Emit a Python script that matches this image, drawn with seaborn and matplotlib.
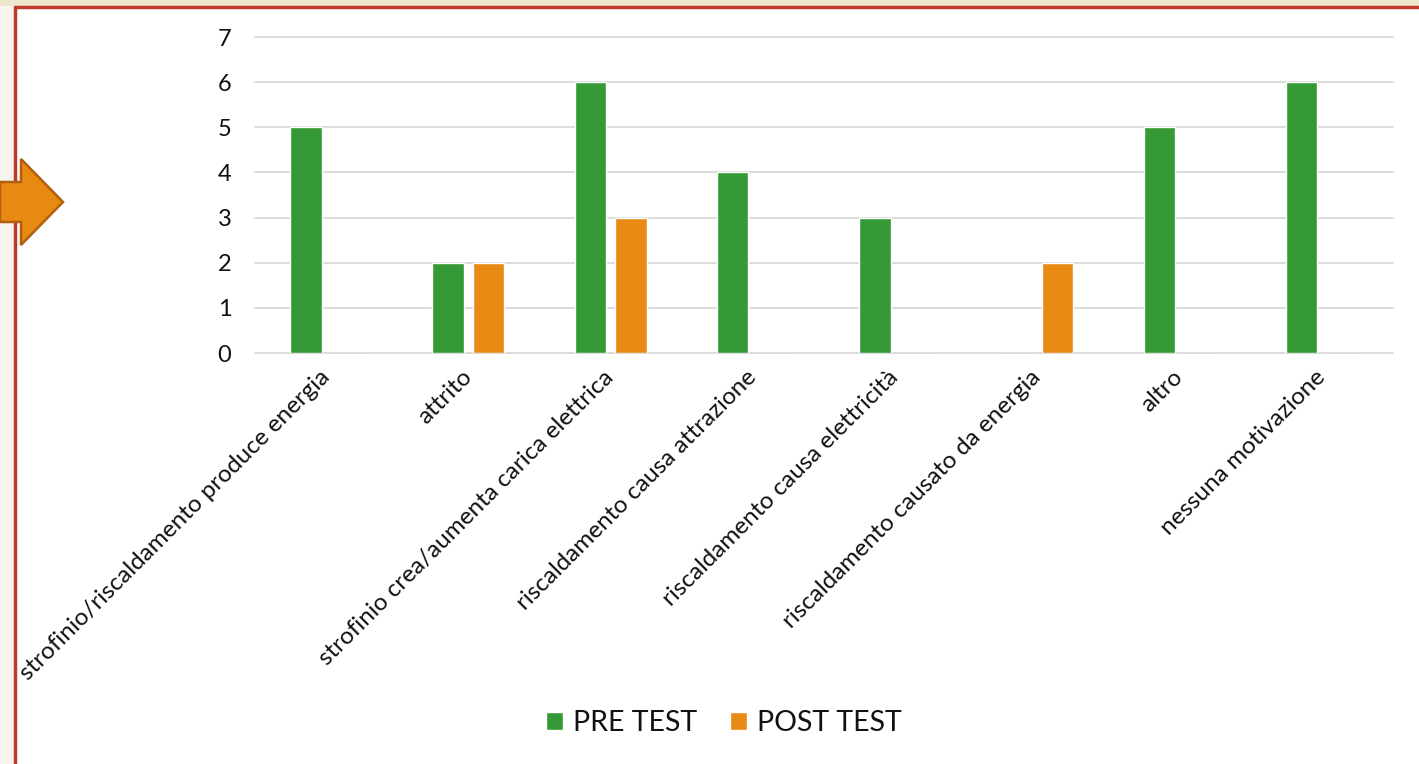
import matplotlib
matplotlib.use("Agg")
import matplotlib.pyplot as plt
from matplotlib.patches import Polygon, Rectangle
from matplotlib.lines import Line2D
import pandas as pd
import seaborn as sns

categories = [
    "strofinio/riscaldamento produce energia",
    "attrito",
    "strofinio crea/aumenta carica elettrica",
    "riscaldamento causa attrazione",
    "riscaldamento causa elettricità",
    "riscaldamento causato da energia",
    "altro",
    "nessuna motivazione",
]
pre_test = [5, 2, 6, 4, 3, 0, 5, 6]
post_test = [0, 2, 3, 0, 0, 2, 0, 0]
series_names = ["PRE TEST", "POST TEST"]
series_colors = ["#359A35", "#E98A15"]

df = pd.DataFrame({
    "categoria": categories * 2,
    "valore": pre_test + post_test,
    "serie": [series_names[0]] * len(categories) + [series_names[1]] * len(categories),
})

sns.set_theme(style="white")
plt.rcParams["font.family"] = ["Lato", "DejaVu Sans"]

fig = plt.figure(figsize=(14.19, 7.64), dpi=100)
fig.patch.set_facecolor("#F6F4EC")
W, H = 1419.0, 764.0

# white slide panel with the red frame
fig.patches.append(Rectangle((15 / W, 0), 1 - 15 / W, 1 - 7 / H,
                             transform=fig.transFigure, facecolor="white",
                             edgecolor="none", zorder=-2))
fig.patches.append(Rectangle((0, 1 - 6 / H), 1, 6 / H,
                             transform=fig.transFigure, facecolor="#EDE7CD",
                             edgecolor="none", zorder=-2))
fig.lines.append(Line2D([15 / W, 15 / W], [0, 1 - 7 / H],
                        transform=fig.transFigure, color="#C0392B", lw=2.5, zorder=4))
fig.lines.append(Line2D([15 / W, 1], [1 - 7 / H, 1 - 7 / H],
                        transform=fig.transFigure, color="#C0392B", lw=2.5, zorder=4))

# orange arrow on the left edge
arrow_px = [(0, 182), (21, 182), (21, 159), (63, 202), (21, 245), (21, 222), (0, 222)]
arrow = Polygon([(x / W, 1 - y / H) for x, y in arrow_px], closed=True,
                transform=fig.transFigure, facecolor="#E88A12",
                edgecolor="#B0600E", lw=1.8, zorder=5)
fig.patches.append(arrow)

ax = fig.add_axes([255 / W, 1 - 353 / H, (1393 - 255) / W, (353 - 37) / H])
ax.set_facecolor("none")

sns.barplot(data=df, x="categoria", y="valore", hue="serie",
            palette=series_colors, width=0.57, gap=0.22,
            saturation=1, ax=ax, zorder=3, legend=True)

ax.set_ylim(0, 7)
ax.set_xlim(-0.5, len(categories) - 0.5)
ax.set_yticks(range(0, 8))
ax.yaxis.grid(True, color="#D9D9D9", lw=1.3, zorder=0)
for gl in ax.get_ygridlines():
    gl.set_clip_on(False)
ax.set_axisbelow(True)
for s in ax.spines.values():
    s.set_visible(False)
ax.set_xlabel("")
ax.set_ylabel("")
ax.tick_params(axis="both", length=0, colors="#111111")
ax.tick_params(axis="y", labelsize=17, pad=17)
ax.tick_params(axis="x", labelsize=17.5, pad=15)
plt.setp(ax.get_xticklabels(), rotation=45, ha="right", va="center",
         rotation_mode="anchor")

handles, labels = ax.get_legend_handles_labels()
ax.legend(handles, labels, loc="center", bbox_to_anchor=(724 / W, 1 - 723 / H),
          bbox_transform=fig.transFigure, ncol=2, frameon=False,
          fontsize=20.5, handlelength=0.6, handleheight=0.6,
          handletextpad=0.35, columnspacing=1.15,
          labelcolor="#111111")

fig.savefig("out.png", dpi=100, facecolor=fig.get_facecolor())
